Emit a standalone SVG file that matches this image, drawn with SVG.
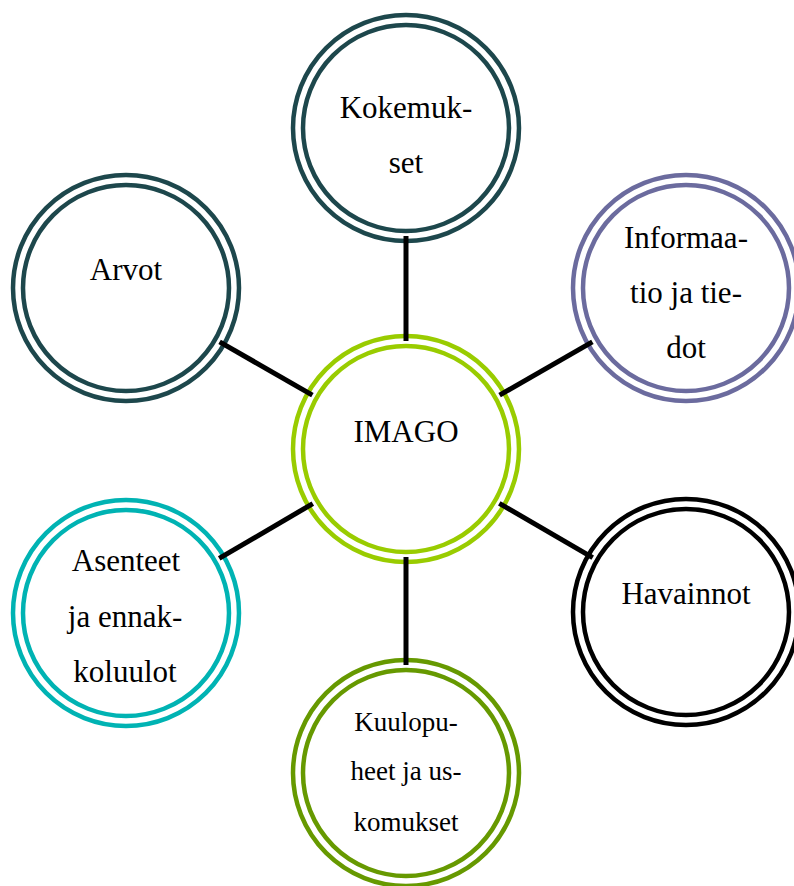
<svg xmlns="http://www.w3.org/2000/svg" width="794" height="886" viewBox="0 0 794 886">
<style>
.ring{fill:none;stroke-width:4.5}
.bg{fill:#fff}
.t{font-family:"Liberation Serif","Times New Roman",serif;font-size:31px;fill:#000;text-anchor:middle}
.ts{font-size:27px}
.c{stroke:#000;stroke-width:5;fill:none}
</style>
<rect width="794" height="886" fill="#fff"/>
<g id="n-kokemukset">
<circle class="bg" cx="406" cy="128" r="113"/>
<circle class="ring" cx="406" cy="128" r="113" stroke="#1D474C"/>
<circle class="ring" cx="406" cy="128" r="103" stroke="#1D474C"/>
<text class="t" x="406" y="118">Kokemuk-</text>
<text class="t" x="406" y="173">set</text>
</g>
<g id="n-arvot">
<circle class="bg" cx="126" cy="288" r="113"/>
<circle class="ring" cx="126" cy="288" r="113" stroke="#1D474C"/>
<circle class="ring" cx="126" cy="288" r="103" stroke="#1D474C"/>
<text class="t" x="126" y="280">Arvot</text>
</g>
<g id="n-informaatio">
<circle class="bg" cx="686" cy="288" r="113"/>
<circle class="ring" cx="686" cy="288" r="113" stroke="#6B6B9E"/>
<circle class="ring" cx="686" cy="288" r="103" stroke="#6B6B9E"/>
<text class="t" x="686" y="248">Informaa-</text>
<text class="t" x="686" y="303">tio ja tie-</text>
<text class="t" x="686" y="358">dot</text>
</g>
<g id="n-imago">
<circle class="bg" cx="406" cy="449" r="113"/>
<circle class="ring" cx="406" cy="449" r="113" stroke="#99CC00"/>
<circle class="ring" cx="406" cy="449" r="103" stroke="#99CC00"/>
<text class="t" x="406" y="442">IMAGO</text>
</g>
<g id="n-asenteet">
<circle class="bg" cx="126" cy="613" r="113"/>
<circle class="ring" cx="126" cy="613" r="113" stroke="#00B3B3"/>
<circle class="ring" cx="126" cy="613" r="103" stroke="#00B3B3"/>
<text class="t" x="126" y="571">Asenteet</text>
<text class="t" x="125" y="627">ja ennak-</text>
<text class="t" x="125" y="682">koluulot</text>
</g>
<g id="n-havainnot">
<circle class="bg" cx="686" cy="612" r="113"/>
<circle class="ring" cx="686" cy="612" r="113" stroke="#000"/>
<circle class="ring" cx="686" cy="612" r="103" stroke="#000"/>
<text class="t" x="686" y="604">Havainnot</text>
</g>
<g id="n-kuulopuheet">
<circle class="bg" cx="406" cy="773" r="113"/>
<circle class="ring" cx="406" cy="773" r="113" stroke="#669900"/>
<circle class="ring" cx="406" cy="773" r="103" stroke="#669900"/>
<text class="t ts" x="406" y="731">Kuulopu-</text>
<text class="t ts" x="406" y="780">heet ja us-</text>
<text class="t ts" x="406" y="831">komukset</text>
</g>
<g id="connectors">
<line class="c" x1="406" y1="236" x2="406" y2="341"/>
<line class="c" x1="219.6" y1="341.8" x2="312.4" y2="395.2"/>
<line class="c" x1="592.4" y1="341.8" x2="499.6" y2="395.2"/>
<line class="c" x1="219.2" y1="558.4" x2="312.8" y2="503.6"/>
<line class="c" x1="592.7" y1="557.7" x2="499.3" y2="503.3"/>
<line class="c" x1="406" y1="557" x2="406" y2="665"/>
</g>
</svg>
